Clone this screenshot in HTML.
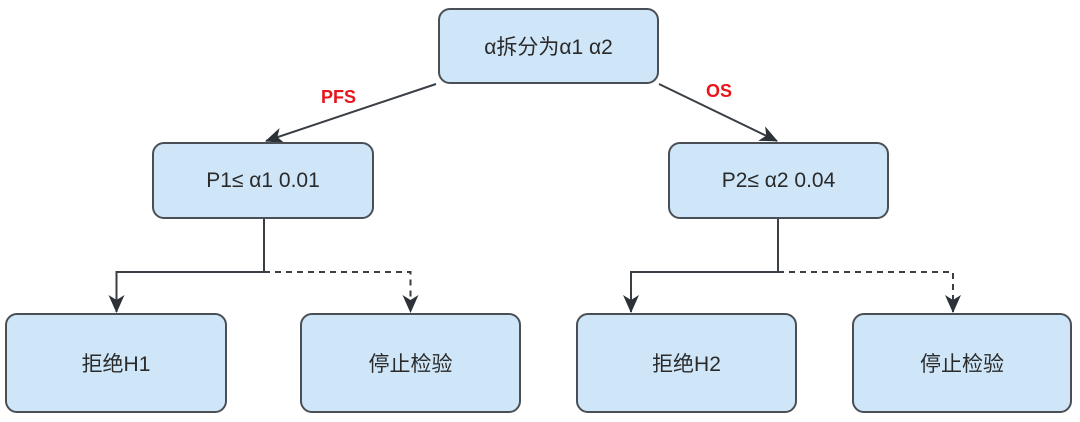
<!DOCTYPE html>
<html><head><meta charset="utf-8"><style>
html,body{margin:0;padding:0;background:#fff;}
body{width:1080px;height:422px;overflow:hidden;position:relative;font-family:"Liberation Sans","Noto Sans CJK SC",sans-serif;}
.b{position:absolute;box-sizing:border-box;background:#cfe6f9;border:2px solid #4a4f55;border-radius:12px;display:flex;align-items:center;justify-content:center;font-size:21px;color:#2a2a2a;}
.l{position:absolute;color:#e8141b;font-weight:bold;font-size:18px;}
svg{position:absolute;left:0;top:0;}
</style></head><body>
<svg width="1080" height="422">
<defs>
<marker id="d" markerWidth="18" markerHeight="18" refX="17" refY="9" orient="auto" markerUnits="userSpaceOnUse"><path d="M0,1 L18,9 L0,17 L5,9 z" fill="#2c3238"/></marker></defs>
<g stroke="#3a3f45" stroke-width="2" fill="none">
<line x1="436" y1="84" x2="266" y2="141" marker-end="url(#d)"/>
<line x1="659" y1="84" x2="777" y2="141" marker-end="url(#d)"/>
<polyline points="264,219 264,272 116.5,272 116.5,312" marker-end="url(#d)"/>
<polyline points="264,272 410.5,272 410.5,312" stroke-dasharray="6,5" marker-end="url(#d)"/>
<polyline points="778,219 778,272 631,272 631,312" marker-end="url(#d)"/>
<polyline points="778,272 953,272 953,312" stroke-dasharray="6,5" marker-end="url(#d)"/>
</g></svg>
<div class="b" style="left:438px;top:8px;width:221px;height:76px;">α拆分为α1 α2</div>
<div class="b" style="left:152px;top:142px;width:222px;height:77px;">P1≤ α1 0.01</div>
<div class="b" style="left:668px;top:142px;width:221px;height:77px;">P2≤ α2 0.04</div>
<div class="b" style="left:5px;top:313px;width:222px;height:100px;">拒绝H1</div>
<div class="b" style="left:300px;top:313px;width:221px;height:100px;">停止检验</div>
<div class="b" style="left:576px;top:313px;width:221px;height:100px;">拒绝H2</div>
<div class="b" style="left:852px;top:313px;width:220px;height:100px;">停止检验</div>
<div class="l" style="left:321px;top:87px;">PFS</div>
<div class="l" style="left:706px;top:81px;">OS</div>
</body></html>
